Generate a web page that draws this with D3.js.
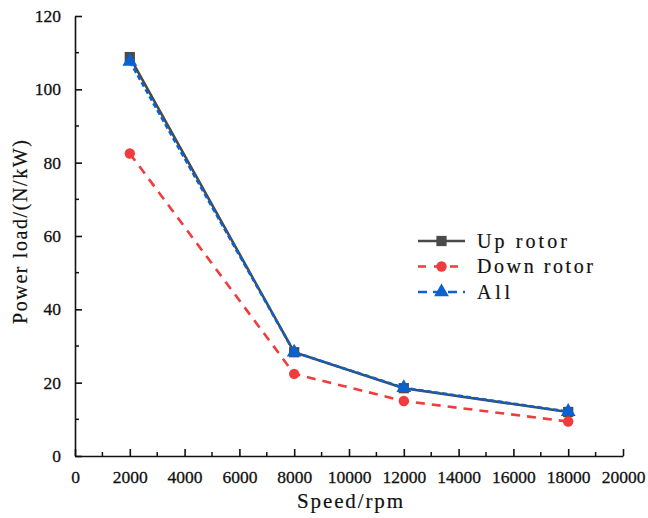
<!DOCTYPE html>
<html>
<head>
<meta charset="utf-8">
<script src="https://cdn.jsdelivr.net/npm/d3@7"></script>
<style>
  body { margin: 0; background: #fff; }
  svg text { fill: #111; font-family: "Times New Roman", "Liberation Serif", serif; }
</style>
</head>
<body>
<script>
// speed (rpm) and power load values for each rotor
var speeds = [2000, 8000, 12000, 18000];
var upRotor = [108.8, 28.3, 18.5, 12.0];
var downRotor = [82.5, 22.4, 15.0, 9.4];
var allRotor = [107.6, 28.3, 18.6, 12.1];
var xTicks = [0, 2000, 4000, 6000, 8000, 10000, 12000, 14000, 16000, 18000, 20000];
var yTicks = [0, 20, 40, 60, 80, 100, 120];

var svgWidth = 648;
var svgHeight = 518;
var margin = {top: 16, right: 25, bottom: 62, left: 75};
var width = svgWidth - margin.left - margin.right;
var height = svgHeight - margin.top - margin.bottom;

var svg = d3.select("body")
  .append("svg")
  .attr("width", svgWidth)
  .attr("height", svgHeight);

var chart = svg.append("g")
  .attr("transform", `translate(${margin.left}, ${margin.top})`);

var x = d3.scaleLinear().domain([0, 20000]).range([0, width]);
var y = d3.scaleLinear().domain([0, 120]).range([height, 0]);

// minor ticks halfway between majors
var xMinor = d3.range(1000, 20000, 2000);
var yMinor = d3.range(10, 120, 20);

var xAxis = chart.append("g")
  .attr("transform", `translate(0, ${height})`)
  .call(d3.axisBottom(x).tickValues(xTicks).tickSizeInner(-7).tickSizeOuter(0).tickPadding(15).tickFormat(d3.format("d")));
xAxis.append("g").selectAll("line")
  .data(xMinor).enter().append("line")
  .attr("x1", d => x(d)).attr("x2", d => x(d))
  .attr("y1", 0).attr("y2", -4)
  .attr("stroke", "#111").attr("stroke-width", 1.5);

var yAxis = chart.append("g")
  .call(d3.axisLeft(y).tickValues(yTicks).tickSizeInner(-7).tickSizeOuter(0).tickPadding(14));
yAxis.append("g").selectAll("line")
  .data(yMinor).enter().append("line")
  .attr("x1", 0).attr("x2", 4)
  .attr("y1", d => y(d)).attr("y2", d => y(d))
  .attr("stroke", "#111").attr("stroke-width", 1.5);

[xAxis, yAxis].forEach(function(ax) {
  ax.attr("font-family", null);
  ax.select(".domain").attr("stroke", "#111").attr("stroke-width", 1.6);
  ax.selectAll(".tick line").attr("stroke", "#111").attr("stroke-width", 1.6);
  ax.selectAll(".tick text")
    .style("font-size", "17.5px")
    .attr("fill", "#111")
    .attr("stroke", "#111")
    .attr("stroke-width", 0.3);
});

// axis titles, spaced out like a half-width CJK font
svg.append("text")
  .attr("x", 350)
  .attr("y", 508)
  .attr("text-anchor", "middle")
  .style("font-size", "21px")
  .attr("textLength", 106)
  .attr("lengthAdjust", "spacing")
  .attr("stroke", "#111")
  .attr("stroke-width", 0.2)
  .text("Speed/rpm");

svg.append("text")
  .attr("transform", "translate(27, 232) rotate(-90)")
  .attr("text-anchor", "middle")
  .style("font-size", "20px")
  .attr("textLength", 184)
  .attr("lengthAdjust", "spacing")
  .attr("stroke", "#111")
  .attr("stroke-width", 0.2)
  .text("Power load/(N/kW)");

var series = [
  {name: "Up rotor", values: upRotor, color: "#4a4a4a", dash: null, marker: "square", legendDash: null, textLen: 90},
  {name: "Down rotor", values: downRotor, color: "#f03c3c", dash: "9,7", marker: "circle", legendDash: "8,8", textLen: 116},
  {name: "All", values: allRotor, color: "#0a62d2", dash: "5,3", marker: "triangle", legendDash: "9,6", textLen: 33}
];

var line = d3.line()
  .x(d => x(d[0]))
  .y(d => y(d[1]));

function markerPath(type) {
  if (type === "square") return d3.symbol().type(d3.symbolSquare).size(105)();
  if (type === "circle") return d3.symbol().type(d3.symbolCircle).size(85)();
  return d3.symbol().type(d3.symbolTriangle).size(95)();
}

series.forEach(function(s) {
  var pts = speeds.map((v, i) => [v, s.values[i]]);
  chart.append("path")
    .datum(pts)
    .attr("fill", "none")
    .attr("stroke", s.color)
    .attr("stroke-width", 2.6)
    .attr("stroke-dasharray", s.dash)
    .attr("d", line);
  chart.append("g").selectAll("path")
    .data(pts).enter().append("path")
    .attr("transform", d => `translate(${x(d[0])}, ${y(d[1])})`)
    .attr("d", markerPath(s.marker))
    .attr("fill", s.color);
});

// legend
var legend = svg.append("g").attr("transform", "translate(418, 241)");
series.forEach(function(s, i) {
  var row = legend.append("g").attr("transform", `translate(0, ${i * 25.5})`);
  row.append("line")
    .attr("x1", 0).attr("x2", 47)
    .attr("stroke", s.color)
    .attr("stroke-width", 2.6)
    .attr("stroke-dasharray", s.legendDash);
  row.append("path")
    .attr("transform", "translate(23.5, 0)")
    .attr("d", markerPath(s.marker))
    .attr("fill", s.color);
  row.append("text")
    .attr("x", 59)
    .attr("y", 6.5)
    .style("font-size", "20px")
    .attr("textLength", s.textLen)
    .attr("lengthAdjust", "spacing")
    .attr("stroke", "#111")
    .attr("stroke-width", 0.2)
    .text(s.name);
});
</script>
</body>
</html>
